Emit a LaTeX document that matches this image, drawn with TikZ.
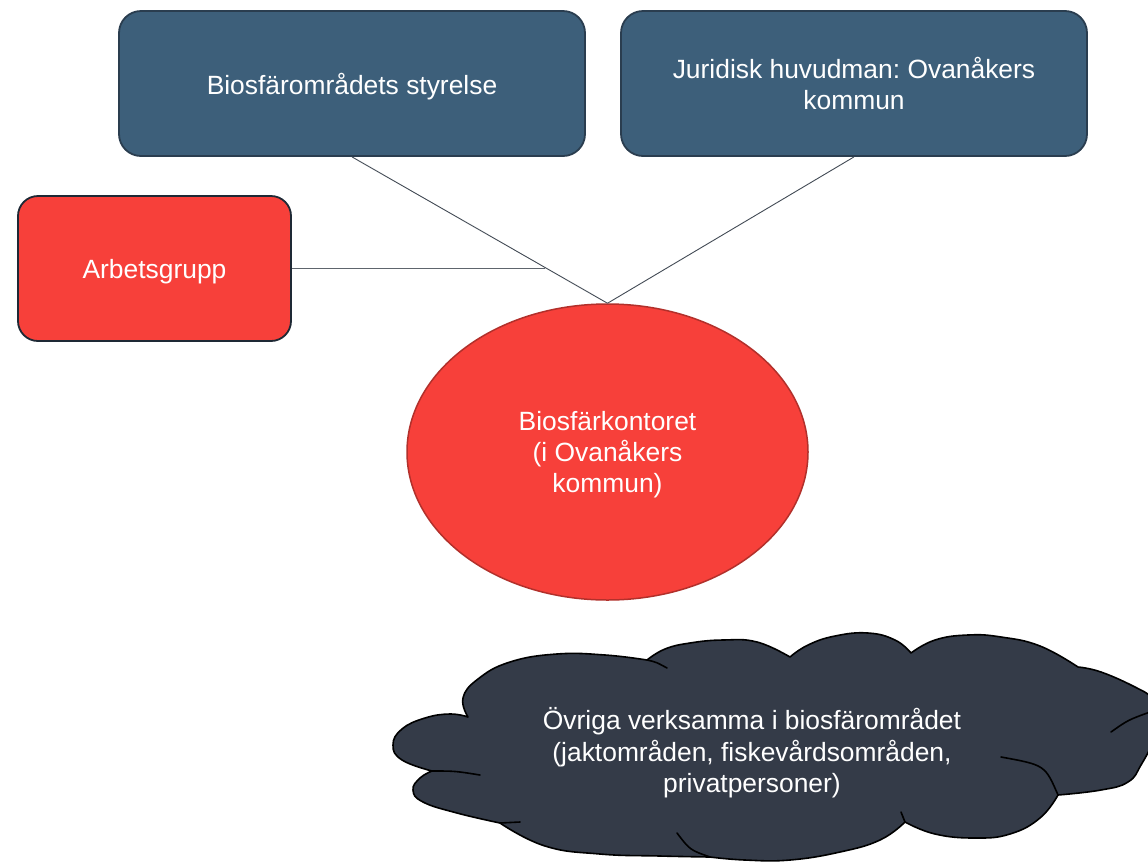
\documentclass[tikz,border=0pt]{standalone}
\usepackage{fontspec}
\setmainfont{Liberation Sans}
\usetikzlibrary{shapes.geometric,calc}
\definecolor{boxblue}{HTML}{3D5F7A}
\definecolor{boxblueedge}{HTML}{2A3D4F}
\definecolor{redfill}{HTML}{F7403A}
\definecolor{rededge}{HTML}{B2302B}
\definecolor{darkedge}{HTML}{1E2935}
\definecolor{cloudfill}{HTML}{343B48}
\definecolor{linecol}{HTML}{434B55}
\definecolor{linecolb}{HTML}{5E656D}
\frenchspacing
\begin{document}
\begin{tikzpicture}[x=1pt,y=-1pt,
  lbl/.style={font=\fontsize{26.4}{31.2}\selectfont, text=white, align=center, text depth=0pt},
  bluebox/.style={lbl, rectangle, rounded corners=22pt, fill=boxblue, draw=boxblueedge, line width=1.8pt, minimum width=466pt, minimum height=145pt, inner sep=0pt},
  redbox/.style={lbl, rectangle, rounded corners=20pt, fill=redfill, draw=darkedge, line width=1.8pt, minimum width=273pt, minimum height=145pt, inner sep=0pt},
  office/.style={lbl, ellipse, fill=redfill, draw=rededge, line width=1.5pt, minimum width=401pt, minimum height=296pt, inner sep=0pt},
  conn/.style={draw=linecol, line width=0.9pt},
  connb/.style={draw=linecolb, line width=1.1pt},
  cloudshape/.style={fill=cloudfill, draw=black, line width=1.6pt, line join=round},
  cloudtail/.style={draw=black, line width=1.6pt, line cap=round}]
\useasboundingbox (0,0) rectangle (1148,863);
\fill[white] (0,0) rectangle (1148,863);

% cloud (drawn shape)
\begin{scope}
\clip (0,0) rectangle (1148,863);
\filldraw[cloudshape]
 plot[smooth,tension=0.75] coordinates {(432,771) (402,760) (393,745) (402,729) (425,718) (450,714) (468,717)}
 -- plot[smooth,tension=0.75] coordinates {(468,717) (463,698) (478,679) (510,662) (557,654) (605,655) (647,660)}
 -- plot[smooth,tension=0.75] coordinates {(647,660) (665,649) (690,643) (723,640) (757,642) (790,657)}
 -- plot[smooth,tension=0.75] coordinates {(790,657) (808,645) (835,636) (868,633) (895,640) (911,653)}
 -- plot[smooth,tension=0.75] coordinates {(911,653) (935,640) (968,635) (1001,637) (1040,646) (1078,667)}
 -- plot[smooth,tension=0.75] coordinates {(1078,667) (1101,672) (1135,687) (1152,698) (1158,712)}
 -- plot[smooth,tension=0.75] coordinates {(1158,712) (1153,740) (1141,765) (1128,782) (1101,790) (1058,795)}
 -- plot[smooth,tension=0.75] coordinates {(1058,795) (1040,818) (1010,834) (975,838) (935,834) (905,822)}
 -- plot[smooth,tension=0.75] coordinates {(905,822) (880,840) (840,852) (790,860) (745,860) (710,857)}
 -- plot[smooth,tension=0.75] coordinates {(710,857) (660,856) (600,854) (545,846) (500,823)}
 -- plot[smooth,tension=0.75] coordinates {(500,823) (457,813) (423,802) (413,790) (420,778) (432,771)}
 -- cycle;
\draw[cloudtail] (647,660) .. controls (656,662) .. (667,668);
\draw[cloudtail] (1111,732) .. controls (1128,720) .. (1150,712);
\draw[cloudtail] (1001,757) .. controls (1045,765) .. (1058,795);
\draw[cloudtail] (677,833) .. controls (690,850) .. (710,857);
\draw[cloudtail] (500,823) -- (520,822);
\draw[cloudtail] (432,771) .. controls (455,771) .. (480,775);
\draw[cloudtail] (905,822) -- (901,812);
\end{scope}
\node[lbl] (ovr) at (752,750) {Övriga verksamma i biosfärområdet\\(jaktområden, fiskevårdsområden,\\privatpersoner)};

% boxes
\node[bluebox] (styr) at (352,83.5) {Biosfärområdets styrelse};
\node[bluebox] (jur) at (854,83.5) {Juridisk huvudman: Ovanåkers\\kommun};
\node[redbox] (arb) at (154.5,268.5) {Arbetsgrupp};
\node[office] (kont) at (607.5,452) {Biosfärkontoret\\(i Ovanåkers\\kommun)};

% connectors
\draw[conn] (styr.south) -- (kont.north);
\draw[conn] (jur.south) -- (kont.north);
\coordinate (join) at ($(styr.south)!0.7568!(kont.north)$);
\draw[connb] (arb.east) -- (arb.east -| join);
\end{tikzpicture}
\end{document}
